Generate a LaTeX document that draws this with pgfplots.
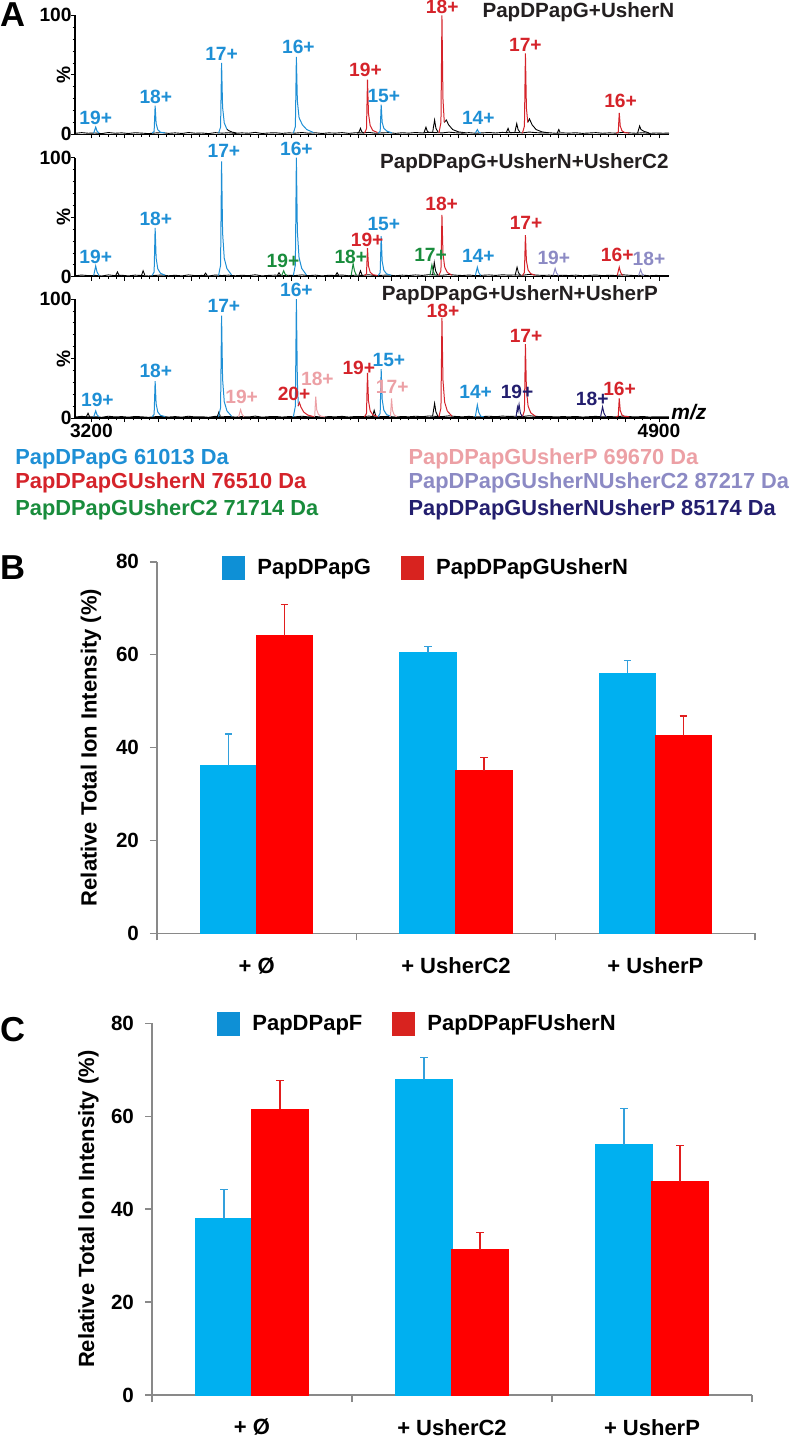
\documentclass[border=0pt]{standalone}
\usepackage{pgfplots}
\pgfplotsset{compat=1.18}
\usepackage{pgfplotstable}
\usepackage{fontspec}
\setmainfont{Liberation Sans}

\definecolor{specblue}{RGB}{30,143,213}
\definecolor{specred}{RGB}{213,35,42}
\definecolor{specgreen}{RGB}{25,140,60}
\definecolor{specpink}{RGB}{236,160,165}
\definecolor{speclav}{RGB}{140,138,196}
\definecolor{specnavy}{RGB}{35,30,110}
\definecolor{ttlgray}{RGB}{35,31,32}
\definecolor{barblue}{RGB}{0,176,240}
\definecolor{barred}{RGB}{255,0,0}
\definecolor{legblue}{RGB}{14,144,214}
\definecolor{legred}{RGB}{216,35,31}
\definecolor{errblue}{RGB}{50,160,220}
\definecolor{errred}{RGB}{225,30,30}
\definecolor{axgray}{RGB}{137,137,137}

\newcommand\labfont{\bfseries\fontsize{9.6}{11}\selectfont}
\newcommand\ttlfont{\bfseries\fontsize{10.3}{12}\selectfont}
\newcommand\keyfont{\bfseries\fontsize{10.9}{13}\selectfont}

\pgfplotstableread{
x y
3151 0.8
3171 1.4
3191 0.9
3211 1.1
3231 0.6
3251 1.5
3271 0.9
3291 1.2
3311 0.7
3331 1.3
3351 1.0
3371 0.6
3391 1.1
3411 1.4
3431 0.8
3451 1.2
3471 0.7
3491 1.5
3511 0.9
3531 1.1
3551 0.6
3571 1.4
3591 1.0
3611 1.3
3631 0.8
3651 1.2
3671 0.9
3691 1.6
3711 0.7
3731 1.1
3751 1.3
3771 0.8
3791 1.2
3811 1.0
3831 1.5
3851 0.9
3871 1.3
3891 0.7
3911 1.2
3931 1.0
3951 1.4
3971 0.8
3991 1.3
4011 1.1
4031 1.6
4051 0.9
4071 1.2
4091 1.4
4111 0.8
4131 1.3
4151 1.0
4171 1.5
4191 1.1
4211 1.7
4231 1.4
4251 1.2
4271 1.8
4291 1.3
4311 1.0
4331 1.4
4351 0.9
4371 1.2
4391 1.5
4411 1.1
4431 1.6
4451 1.3
4471 1.5
4491 1.2
4511 1.9
4531 1.4
4551 1.1
4571 1.3
4591 0.9
4611 1.2
4631 1.0
4651 1.3
4671 0.8
4691 1.1
4711 1.4
4731 0.9
4751 1.2
4771 1.0
4791 1.6
4811 1.2
4831 0.9
4851 1.3
4871 0.8
4891 1.1
4911 0.9
4930 1.0
}\noise

\pgfplotstableread{
x y e
0 36.1 6.8
1 60.4 1.4
2 56.0 2.8
}\Bblue
\pgfplotstableread{
x y e
0 64.0 6.8
1 35.0 2.9
2 42.5 4.3
}\Bred
\pgfplotstableread{
x y e
0 38.0 6.3
1 67.8 4.9
2 53.9 7.8
}\Cblue
\pgfplotstableread{
x y e
0 61.5 6.2
1 31.2 3.8
2 45.9 7.8
}\Cred

\pgfplotsset{
  spec/.style={
    scale only axis, width=297pt, height=59.5pt,
    xmin=3151, xmax=4930, ymin=0, ymax=100,
    axis lines=left, axis line style={-, line width=0.6pt, black},
    clip=false,
    ytick={0,50,100}, yticklabels={0,,100}, minor y tick num=4,
    xtick={3200,3300,...,4900}, xticklabels={}, minor x tick num=3,
    tick align=outside, major tick length=2pt, minor tick length=1.2pt,
    tick style={line width=0.4pt, black},
    yticklabel style={font=\labfont, inner sep=0.5pt, xshift=1pt},
    xticklabel style={font=\labfont, inner sep=1pt},
    /pgf/number format/assume math mode=true,
  },
  sk/.style={black, line width=0.45pt, mark=none},
  sb/.style={specblue, line width=0.5pt, mark=none},
  sr/.style={specred, line width=0.5pt, mark=none},
  sg/.style={specgreen, line width=0.5pt, mark=none},
  sp/.style={specpink, line width=0.5pt, mark=none},
  sl/.style={speclav, line width=0.5pt, mark=none},
  sn/.style={specnavy, line width=0.5pt, mark=none},
  sqlegend/.style={legend image code/.code={\fill[##1] (0pt,-6pt) rectangle (11.5pt,6pt);}},
  barax/.style={
    scale only axis, width=299pt, height=185.8pt,
    xmin=-0.5, xmax=2.5, ymin=0, ymax=80,
    ytick={0,20,...,80},
    xtick={-0.5,0.5,1.5,2.5}, xticklabels={},
    extra x ticks={0,1,2},
    extra x tick labels={+ Ø,+ UsherC2,+ UsherP},
    extra x tick style={major tick length=0pt, xticklabel style={yshift=-8.5pt}},
    axis lines=left, axis line style={-, axgray, line width=0.8pt},
    tick style={axgray, line width=0.8pt},
    tick align=outside, major tick length=3.5pt,
    yticklabel style={font=\bfseries\fontsize{10.3}{12}\selectfont, xshift=-2pt},
    xticklabel style={font=\bfseries\fontsize{11}{13}\selectfont},
    /pgf/number format/assume math mode=true,
    ylabel={Relative Total Ion Intensity (\%)},
    ylabel style={font=\bfseries\fontsize{11}{13}\selectfont, anchor=center},
    ybar, bar width=0.28,
    legend columns=2,
    legend style={draw=none, fill=none, inner sep=0pt, font=\bfseries\fontsize{11}{13}\selectfont,
      nodes={inner xsep=6pt, inner ysep=0pt},
      /tikz/every even column/.append style={column sep=9pt}},
    legend cell align=left,
  },
  bluebars/.style={fill=barblue, draw=barblue, line width=0.7pt, bar shift=-0.14, forget plot,
    error bars/.cd, y dir=plus, y explicit, error mark=-,
    error bar style={draw=errblue, line width=0.7pt},
    error mark options={rotate=90, draw=errblue, line width=0.7pt, mark size=1.8pt}},
  redbars/.style={fill=barred, draw=barred, line width=0.7pt, bar shift=0.14, forget plot,
    error bars/.cd, y dir=plus, y explicit, error mark=-,
    error bar style={draw=errred, line width=0.7pt},
    error mark options={rotate=90, draw=errred, line width=0.7pt, mark size=1.8pt}},
}

\begin{document}
\begin{tikzpicture}
\useasboundingbox (0pt,0pt) rectangle (396.5pt,-718.5pt);

% ---------------- Panel A ----------------
\node[anchor=north west, inner sep=0, font=\bfseries\fontsize{17.3}{18}\selectfont] at (0pt,-1.3pt) {A};

% spectrum 1
\begin{axis}[spec, at={(37.5pt,-67.15pt)}, anchor=south west]
\addplot[sk] table {\noise};
\addplot[sk] coordinates {(3606,4.2)(3612,3)(3622,1.8)(3635,1.1)};
\addplot[sk] coordinates {(3996,1)(4001,1.6)(4006,5)(4010,2)(4016,1)};
\addplot[sk] coordinates {(4196,1)(4202,6)(4206,2.7)(4212,1.2)};
\addplot[sk] coordinates {(4222,1.5)(4228,12)(4232,5)(4238,2)};
\addplot[sk] coordinates {(4257,10)(4263,12)(4270,8)(4282,4)(4300,2)(4320,1.3)};
\addplot[sk] coordinates {(4442,1)(4448,5)(4452,2)(4458,1)};
\addplot[sk] coordinates {(4468,1.2)(4474,9)(4478,4)(4484,1.5)};
\addplot[sk] coordinates {(4507,10)(4512,13)(4520,8)(4532,4)(4550,2)(4570,1.2)};
\addplot[sk] coordinates {(4595,1)(4600,4)(4604,1.5)};
\addplot[sk] coordinates {(4836,1)(4842,7)(4846,4)(4855,2.5)(4870,1.2)};
\addplot[sb] coordinates {(3207,1)(3213,6)(3217,2.7)(3223,1)};
\addplot[sb] coordinates {(3382,1)(3388,2.4)(3391,24)(3394,9.1)(3399,3.8)(3407,1.7)(3421,1.2)};
\addplot[sb] coordinates {(3581,1)(3587,6)(3590,60)(3593,22.8)(3598,9.6)(3606,4.2)};
\addplot[sb] coordinates {(3805,1)(3811,6.5)(3814,65)(3817,28)(3822,14)(3832,8)(3845,4)(3865,1.5)};
\addplot[sb] coordinates {(4059,1)(4065,2.5)(4068,25)(4071,10)(4076,5)(4086,2.5)(4100,1.2)};
\addplot[sb] coordinates {(4350,1)(4356,4)(4360,1.8)(4366,1)};
\addplot[sr] coordinates {(4018,1)(4024,4.6)(4027,46)(4030,17.5)(4035,7.4)(4043,3.2)(4057,1.5)};
\addplot[sr] coordinates {(4241,1)(4247,10)(4250,100)(4253,30)(4257,10)};
\addplot[sr] coordinates {(4491,1)(4497,6.8)(4500,68)(4503,22)(4507,10)};
\addplot[sr] coordinates {(4772,1)(4778,1.8)(4781,18)(4784,7)(4789,3)(4797,1.5)(4811,1)};
\node[font=\labfont, text=specblue, inner sep=0] at (axis cs:3213,13.4) {19+};
\node[font=\labfont, text=specblue, inner sep=0] at (axis cs:3393,31.6) {18+};
\node[font=\labfont, text=specblue, inner sep=0] at (axis cs:3590,67.5) {17+};
\node[font=\labfont, text=specblue, inner sep=0] at (axis cs:3820,73.6) {16+};
\node[font=\labfont, text=specred, inner sep=0] at (axis cs:4021,54) {19+};
\node[font=\labfont, text=specblue, inner sep=0] at (axis cs:4076,32.4) {15+};
\node[font=\labfont, text=specred, inner sep=0] at (axis cs:4251,107.2) {18+};
\node[font=\labfont, text=specblue, inner sep=0] at (axis cs:4359,13.4) {14+};
\node[font=\labfont, text=specred, inner sep=0] at (axis cs:4500,75) {17+};
\node[font=\labfont, text=specred, inner sep=0] at (axis cs:4785,28) {16+};
\node[anchor=east, font=\ttlfont, text=ttlgray, inner sep=0] at (axis cs:4947,102.8) {PapDPapG+UsherN};
\node[rotate=90, font=\labfont, inner sep=0] at (axis description cs:-0.0194,0.5) {\%};
\end{axis}

% spectrum 2
\begin{axis}[spec, at={(37.5pt,-138.35pt)}, anchor=south west]
\addplot[sk] table {\noise};
\addplot[sk] coordinates {(3273,1)(3278,4)(3283,1.2)};
\addplot[sk] coordinates {(3350,1)(3355,5)(3360,1.5)};
\addplot[sk] coordinates {(3537,1)(3542,3)(3547,1)};
\addplot[sk] coordinates {(3757,1)(3762,3.4)(3767,1)};
\addplot[sk] coordinates {(3931,1)(3936,3.4)(3941,1)};
\addplot[sk] coordinates {(4001,1)(4006,5)(4011,1.2)};
\addplot[sk] coordinates {(4222,1.5)(4227,12)(4231,5)(4237,1.5)};
\addplot[sk] coordinates {(4469,1)(4475,8)(4479,3.5)(4485,1.2)};
\addplot[sb] coordinates {(3207,1)(3213,9)(3217,4)(3223,1)};
\addplot[sb] coordinates {(3382,1)(3388,4)(3391,41)(3394,15.6)(3399,6.6)(3407,2.9)(3421,1.2)};
\addplot[sb] coordinates {(3581,1)(3587,9.7)(3590,97)(3593,37)(3598,15.5)(3606,6.8)(3620,1.5)};
\addplot[sb] coordinates {(3805,1)(3811,10)(3814,100)(3817,38)(3822,16)(3830,7)(3844,1.5)};
\addplot[sb] coordinates {(4059,1)(4065,3.4)(4068,34)(4071,13)(4076,5.4)(4084,2.4)(4098,1.2)};
\addplot[sb] coordinates {(4350,1)(4356,8)(4360,3.6)(4366,1)};
\addplot[sg] coordinates {(3770,1)(3776,5)(3780,2.2)(3786,1)};
\addplot[sg] coordinates {(3978,1)(3984,11)(3988,5)(3994,1)};
\addplot[sg] coordinates {(4214,1)(4220,10)(4224,4.5)(4230,1)};
\addplot[sr] coordinates {(4018,1)(4024,2.4)(4027,24)(4030,9)(4035,3.8)(4043,1.7)(4057,1)};
\addplot[sr] coordinates {(4241,1)(4247,5.2)(4250,52)(4253,20)(4258,8.3)(4266,3.6)(4280,1.2)};
\addplot[sr] coordinates {(4491,1)(4497,3.5)(4500,35)(4503,13.3)(4508,5.6)(4516,2.5)(4530,1.2)};
\addplot[sr] coordinates {(4775,1)(4781,8)(4785,3.6)(4791,1)};
\addplot[sl] coordinates {(4583,1)(4589,7)(4593,3.2)(4599,1)};
\addplot[sl] coordinates {(4839,1)(4845,6)(4849,2.7)(4855,1)};
\node[font=\labfont, text=specblue, inner sep=0] at (axis cs:3213,16.3) {19+};
\node[font=\labfont, text=specblue, inner sep=0] at (axis cs:3393,48.5) {18+};
\node[font=\labfont, text=specblue, inner sep=0] at (axis cs:3597,105.6) {17+};
\node[font=\labfont, text=specblue, inner sep=0] at (axis cs:3814,107) {16+};
\node[font=\labfont, text=specgreen, inner sep=0] at (axis cs:3774,13.4) {19+};
\node[font=\labfont, text=specgreen, inner sep=0] at (axis cs:3977,16.8) {18+};
\node[font=\labfont, text=specred, inner sep=0] at (axis cs:4026,31.2) {19+};
\node[font=\labfont, text=specblue, inner sep=0] at (axis cs:4076,44.5) {15+};
\node[font=\labfont, text=specred, inner sep=0] at (axis cs:4249,60.8) {18+};
\node[font=\labfont, text=specgreen, inner sep=0] at (axis cs:4216,18.2) {17+};
\node[font=\labfont, text=specblue, inner sep=0] at (axis cs:4359,17.6) {14+};
\node[font=\labfont, text=specred, inner sep=0] at (axis cs:4502,44.9) {17+};
\node[font=\labfont, text=speclav, inner sep=0] at (axis cs:4585,15.5) {19+};
\node[font=\labfont, text=specred, inner sep=0] at (axis cs:4775,18.2) {16+};
\node[font=\labfont, text=speclav, inner sep=0] at (axis cs:4870,14.6) {18+};
\node[anchor=east, font=\ttlfont, text=ttlgray, inner sep=0] at (axis cs:4930,95.5) {PapDPapG+UsherN+UsherC2};
\node[rotate=90, font=\labfont, inner sep=0] at (axis description cs:-0.0194,0.5) {\%};
\end{axis}

% spectrum 3
\begin{axis}[spec, at={(37.5pt,-209pt)}, anchor=south west,
  xticklabels={3200,,,,,,,,,,,,,,,,,4900}]
\addplot[sk] table {\noise};
\addplot[sk] coordinates {(3185,1)(3190,4)(3195,1)};
\addplot[sk] coordinates {(3577,1)(3582,5)(3586,1.5)};
\addplot[sk] coordinates {(4042,1)(4047,6.5)(4052,1.5)};
\addplot[sk] coordinates {(4222,1.5)(4228,12.3)(4232,5)(4238,1.5)};
\addplot[sb] coordinates {(3207,1)(3213,6)(3217,2.7)(3223,1)};
\addplot[sb] coordinates {(3382,1)(3388,3.1)(3391,31)(3394,11.8)(3399,5)(3407,2.2)(3421,1.2)};
\addplot[sb] coordinates {(3581,1)(3587,8.6)(3590,86)(3593,32.7)(3598,13.8)(3606,6)(3620,1.5)};
\addplot[sb] coordinates {(3805,1)(3811,10)(3814,100)(3817,30)(3820,10)};
\addplot[sb] coordinates {(4059,1)(4065,4.1)(4068,41)(4071,15.6)(4076,6.6)(4084,2.9)(4098,1.2)};
\addplot[sb] coordinates {(4350,1)(4356,11)(4360,5)(4366,1.5)(4375,1)};
\addplot[sp] coordinates {(3641,1)(3647,7)(3651,3.2)(3657,1)};
\addplot[sp] coordinates {(3866,1)(3869,1.8)(3872,18)(3875,7)(3880,3)(3888,1.5)(3900,1)};
\addplot[sp] coordinates {(4093,1)(4096,1.7)(4099,16.5)(4102,6.3)(4107,2.6)(4115,1.2)};
\addplot[sr] coordinates {(3819,10)(3823,13)(3828,9)(3836,5)(3848,2.5)(3865,1.2)};
\addplot[sr] coordinates {(4018,1)(4024,3.8)(4027,38)(4030,14.4)(4035,6)(4043,2.7)(4057,1.2)};
\addplot[sr] coordinates {(4241,1)(4247,8.4)(4250,84)(4253,32)(4258,13.4)(4266,5.9)(4280,1.5)};
\addplot[sr] coordinates {(4491,1)(4497,6.2)(4500,62)(4503,23.6)(4508,10)(4516,4.3)(4530,1.5)};
\addplot[sr] coordinates {(4772,1)(4778,1.7)(4781,16.5)(4784,6.3)(4789,2.6)(4797,1.3)(4811,1)};
\addplot[sn] coordinates {(4472,1)(4476,9)(4478,6)(4481,11.5)(4485,4)(4491,1)};
\addplot[sn] coordinates {(4725,1)(4731,9.4)(4735,4.2)(4741,1)};
\node[font=\labfont, text=specblue, inner sep=0] at (axis cs:3218,14.9) {19+};
\node[font=\labfont, text=specblue, inner sep=0] at (axis cs:3393,39.2) {18+};
\node[font=\labfont, text=specblue, inner sep=0] at (axis cs:3597,94) {17+};
\node[font=\labfont, text=specblue, inner sep=0] at (axis cs:3814,108) {16+};
\node[font=\labfont, text=specpink, inner sep=0] at (axis cs:3650,17.6) {19+};
\node[font=\labfont, text=specred, inner sep=0] at (axis cs:3807,20.4) {20+};
\node[font=\labfont, text=specpink, inner sep=0] at (axis cs:3877,33) {18+};
\node[font=\labfont, text=specred, inner sep=0] at (axis cs:4001,42) {19+};
\node[font=\labfont, text=specblue, inner sep=0] at (axis cs:4091,48.5) {15+};
\node[font=\labfont, text=specpink, inner sep=0] at (axis cs:4101,26.3) {17+};
\node[font=\labfont, text=specred, inner sep=0] at (axis cs:4253,89.7) {18+};
\node[font=\labfont, text=specblue, inner sep=0] at (axis cs:4351,21.8) {14+};
\node[font=\labfont, text=specnavy, inner sep=0] at (axis cs:4475,21.8) {19+};
\node[font=\labfont, text=specred, inner sep=0] at (axis cs:4502,68.9) {17+};
\node[font=\labfont, text=specnavy, inner sep=0] at (axis cs:4700,16.2) {18+};
\node[font=\labfont, text=specred, inner sep=0] at (axis cs:4782,24.6) {16+};
\node[anchor=east, font=\ttlfont, text=ttlgray, inner sep=0] at (axis cs:4898,103.4) {PapDPapG+UsherN+UsherP};
\node[rotate=90, font=\labfont, inner sep=0] at (axis description cs:-0.0194,0.5) {\%};
\node[anchor=west, inner sep=1pt, font=\bfseries\itshape\fontsize{10.5}{12}\selectfont] at (rel axis cs:1,0.05) {m/z};
\end{axis}

% key below panel A
\node[anchor=base west, inner sep=0, font=\keyfont, text=specblue] at (7.5pt,-232pt) {PapDPapG 61013 Da};
\node[anchor=base west, inner sep=0, font=\keyfont, text=specred] at (7.5pt,-244.15pt) {PapDPapGUsherN 76510 Da};
\node[anchor=base west, inner sep=0, font=\keyfont, text=specgreen] at (7.5pt,-257.5pt) {PapDPapGUsherC2 71714 Da};
\node[anchor=base west, inner sep=0, font=\keyfont, text=specpink] at (204.15pt,-232pt) {PapDPapGUsherP 69670 Da};
\node[anchor=base west, inner sep=0, font=\keyfont, text=speclav] at (204.15pt,-244.15pt) {PapDPapGUsherNUsherC2 87217 Da};
\node[anchor=base west, inner sep=0, font=\keyfont, text=specnavy] at (204.15pt,-257.5pt) {PapDPapGUsherNUsherP 85174 Da};

% ---------------- Panel B ----------------
\node[anchor=north west, inner sep=0, font=\bfseries\fontsize{17.3}{18}\selectfont] at (0pt,-277.5pt) {B};
\begin{axis}[barax, at={(78.5pt,-466.65pt)}, anchor=south west,
  ylabel style={at={(axis description cs:-0.1104,0.5)}},
  legend style={at={(rel axis cs:0.1087,0.983)}, anchor=west}]
\addlegendimage{sqlegend, fill=legblue, draw=none}
\addlegendentry{PapDPapG}
\addlegendimage{sqlegend, fill=legred, draw=none}
\addlegendentry{PapDPapGUsherN}
\addplot[bluebars] table[x=x, y=y, y error=e] {\Bblue};
\addplot[redbars] table[x=x, y=y, y error=e] {\Bred};
\end{axis}

% ---------------- Panel C ----------------
\node[anchor=north west, inner sep=0, font=\bfseries\fontsize{17.3}{18}\selectfont] at (0pt,-508.5pt) {C};
\begin{axis}[barax, at={(76pt,-697.5pt)}, anchor=south west, width=300pt,
  ylabel style={at={(axis description cs:-0.1058,0.5)}},
  legend style={at={(rel axis cs:0.1083,0.998)}, anchor=west}]
\addlegendimage{sqlegend, fill=legblue, draw=none}
\addlegendentry{PapDPapF}
\addlegendimage{sqlegend, fill=legred, draw=none}
\addlegendentry{PapDPapFUsherN}
\addplot[bluebars] table[x=x, y=y, y error=e] {\Cblue};
\addplot[redbars] table[x=x, y=y, y error=e] {\Cred};
\end{axis}
\end{tikzpicture}
\end{document}
